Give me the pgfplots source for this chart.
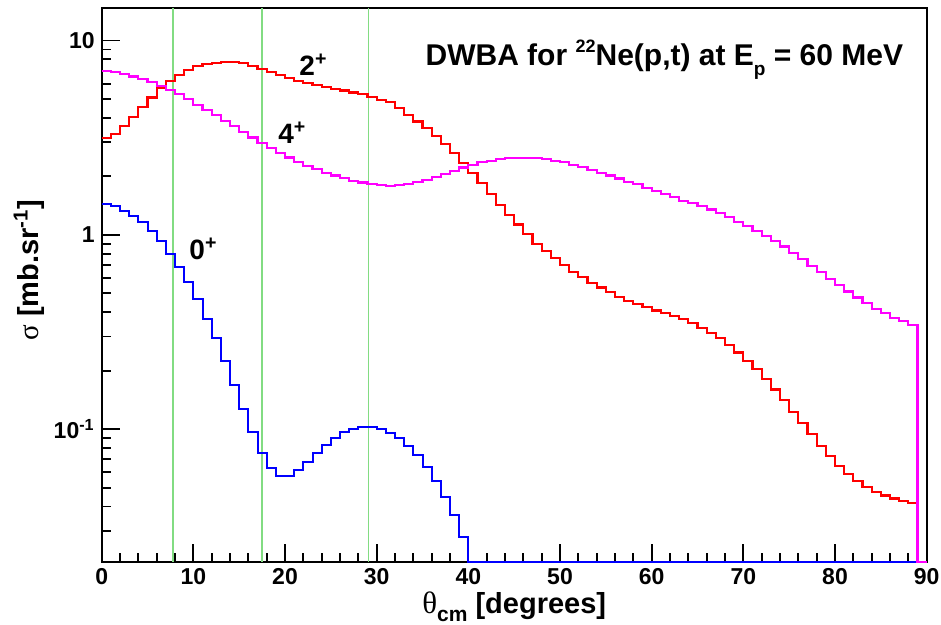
\documentclass[border=0pt]{standalone}
\usepackage{fontspec}
\setmainfont{Liberation Sans}
\newfontfamily\symf{Liberation Serif}
\usepackage{pgfplots}
\pgfplotsset{compat=1.18}
\usepackage{pgfplotstable}
\definecolor{glines}{RGB}{130,220,130}
\definecolor{hmag}{RGB}{255,0,255}
\definecolor{hred}{RGB}{255,0,0}
\definecolor{hblue}{RGB}{0,0,255}

\pgfplotstableread{
x red mag blue
0 3.14 6.96 1.44
1 3.31 6.87 1.40
2 3.64 6.73 1.33
3 4.06 6.53 1.25
4 4.54 6.33 1.16
5 5.09 6.10 1.05
6 5.69 5.85 0.93
7 6.22 5.57 0.798
8 6.66 5.30 0.687
9 7.07 4.99 0.571
10 7.37 4.68 0.467
11 7.57 4.40 0.371
12 7.70 4.13 0.293
13 7.73 3.87 0.223
14 7.73 3.64 0.169
15 7.64 3.40 0.127
16 7.42 3.17 0.0966
17 7.13 2.96 0.0755
18 6.87 2.79 0.0633
19 6.64 2.63 0.0576
20 6.41 2.50 0.0575
21 6.21 2.38 0.0613
22 6.03 2.27 0.0677
23 5.90 2.18 0.0750
24 5.77 2.09 0.0830
25 5.64 2.02 0.0905
26 5.53 1.96 0.0966
27 5.40 1.90 0.1001
28 5.29 1.86 0.103
29 5.11 1.83 0.103
30 4.95 1.81 0.1004
31 4.82 1.79 0.096
32 4.48 1.80 0.0902
33 4.14 1.83 0.0821
34 3.83 1.87 0.0737
35 3.54 1.92 0.0642
36 3.23 1.98 0.0544
37 2.93 2.06 0.045
38 2.63 2.13 0.0362
39 2.34 2.22 0.028
40 2.09 2.29 0.0208
41 1.85 2.36 0.0208
42 1.63 2.41 0.0208
43 1.43 2.45 0.0208
44 1.27 2.48 0.0208
45 1.13 2.49 0.0208
46 1.01 2.49 0.0208
47 0.90 2.48 0.0208
48 0.83 2.45 0.0208
49 0.758 2.41 0.0208
50 0.701 2.36 0.0208
51 0.647 2.30 0.0208
52 0.606 2.23 0.0208
53 0.568 2.16 0.0208
54 0.536 2.09 0.0208
55 0.507 2.02 0.0208
56 0.481 1.95 0.0208
57 0.459 1.87 0.0208
58 0.442 1.82 0.0208
59 0.424 1.74 0.0208
60 0.408 1.68 0.0208
61 0.397 1.62 0.0208
62 0.382 1.56 0.0208
63 0.368 1.50 0.0208
64 0.351 1.46 0.0208
65 0.333 1.40 0.0208
66 0.314 1.35 0.0208
67 0.294 1.29 0.0208
68 0.271 1.23 0.0208
69 0.248 1.17 0.0208
70 0.225 1.11 0.0208
71 0.204 1.05 0.0208
72 0.182 0.99 0.0208
73 0.160 0.931 0.0208
74 0.141 0.871 0.0208
75 0.123 0.805 0.0208
76 0.108 0.75 0.0208
77 0.094 0.695 0.0208
78 0.082 0.643 0.0208
79 0.0726 0.594 0.0208
80 0.0648 0.553 0.0208
81 0.0590 0.511 0.0208
82 0.0542 0.476 0.0208
83 0.0503 0.445 0.0208
84 0.0475 0.417 0.0208
85 0.0456 0.395 0.0208
86 0.0440 0.375 0.0208
87 0.0428 0.361 0.0208
88 0.0418 0.344 0.0208
89 0.0208 0.0208 0.0208
90 0.0208 0.0208 0.0208
}\data

\begin{document}
\begin{tikzpicture}
\begin{axis}[
  scale only axis,
  width=412.5pt, height=276.85pt,
  ymode=log,
  xmin=0, xmax=90, ymin=0.0208, ymax=14.7,
  clip=false,
  axis line style={line width=1pt, black},
  tick pos=left,
  tick align=inside,
  major tick length=9pt, minor tick length=4.5pt,
  every tick/.style={black, line width=0.9pt},
  xtick={0,10,...,90},
  minor x tick num=4,
  ytick={0.1,1,10},
  yticklabels={10\textsuperscript{-1},1,10},
  minor ytick={0.03,0.04,0.05,0.06,0.07,0.08,0.09,0.2,0.3,0.4,0.5,0.6,0.7,0.8,0.9,2,3,4,5,6,7,8,9},
  /pgf/number format/assume math mode=true,
  tick label style={font=\fontsize{11.5}{13}\selectfont\bfseries},
  xlabel={{\symf\mdseries\fontsize{15.5}{16}\selectfont θ}\raisebox{-4pt}{\fontsize{10.5}{11}\selectfont cm} [degrees]},
  ylabel={{\symf\mdseries σ} [mb.sr\textsuperscript{-1}]},
  xlabel style={at={(axis description cs:0.5,-0.094)}, anchor=base, font=\fontsize{14.5}{16}\selectfont\bfseries},
  ylabel style={at={(axis description cs:-0.0772,0.527)}, anchor=base, font=\fontsize{14.5}{16}\selectfont\bfseries},
]
\addplot[glines, line width=0.9pt] coordinates {(7.75,0.0208) (7.75,14.7)};
\addplot[glines, line width=0.9pt] coordinates {(17.5,0.0208) (17.5,14.7)};
\addplot[glines, line width=0.9pt] coordinates {(29.1,0.0208) (29.1,14.7)};
\addplot[hblue, line width=1pt, mark=none, const plot mark left] table[x=x,y=blue]{\data};
\addplot[hred, line width=1.05pt, mark=none, const plot mark left] table[x=x,y=red]{\data};
\addplot[hmag, line width=1.05pt, mark=none, const plot mark left] table[x=x,y=mag]{\data};
\node[anchor=base west, font=\fontsize{14}{16}\selectfont\bfseries] at (axis cs:20.8,6.58) {2\textsuperscript{+}};
\node[anchor=base west, font=\fontsize{14}{16}\selectfont\bfseries] at (axis cs:18.5,2.94) {4\textsuperscript{+}};
\node[anchor=base west, font=\fontsize{14}{16}\selectfont\bfseries] at (axis cs:8.8,0.744) {0\textsuperscript{+}};
\node[anchor=base east, font=\fontsize{15}{17}\selectfont\bfseries] at (rel axis cs:0.98,0.897) {DWBA for \raisebox{6.5pt}{\fontsize{9}{9}\selectfont 22}Ne(p,t) at E\raisebox{-5pt}{\fontsize{9.5}{10}\selectfont p} = 60 MeV};
\coordinate (sw) at (rel axis cs:0,0);
\coordinate (ne) at (rel axis cs:1,1);
\end{axis}
\pgfresetboundingbox
\path ([xshift=-50.85pt,yshift=-31.65pt]sw) rectangle ([xshift=7.15pt,yshift=4pt]ne);
\end{tikzpicture}
\end{document}
